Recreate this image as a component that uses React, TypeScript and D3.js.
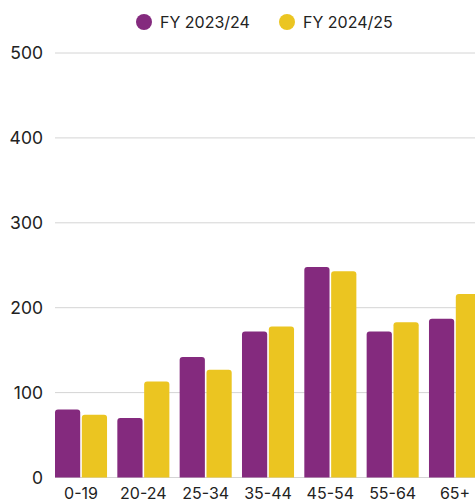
import React, { useEffect, useRef } from "react";
import * as d3 from "d3";

const ageGroups = ["0-19", "20-24", "25-34", "35-44", "45-54", "55-64", "65+"];
const seriesNames = ["FY 2023/24", "FY 2024/25"];
const fy2324 = [80, 70, 142, 172, 248, 172, 187];
const fy2425 = [74, 113, 127, 178, 243, 183, 216];
const yTicks = [0, 100, 200, 300, 400, 500];
const colors = ["#842a7e", "#ebc521"];

const W = 475;
const H = 503;

// rect with rounded top corners only
const topRounded = (x: number, y: number, w: number, h: number, r: number) => {
  r = Math.min(r, h, w / 2);
  return `M${x},${y + h}V${y + r}Q${x},${y} ${x + r},${y}H${x + w - r}Q${x + w},${y} ${x + w},${y + r}V${y + h}Z`;
};

export default function App() {
  const ref = useRef<SVGSVGElement>(null);

  useEffect(() => {
    document.body.style.margin = "0";
    const svg = d3.select(ref.current);
    svg.selectAll("*").remove();

    const margin = { top: 53, left: 55, bottom: 25.5 };
    const plotBottom = H - margin.bottom;

    const x0 = d3.scaleBand<string>()
      .domain(ageGroups)
      .range([margin.left, margin.left + 62.33 * 7])
      .paddingInner(0.165)
      .paddingOuter(0.0825)
      .align(0);

    const x1 = d3.scaleBand<string>()
      .domain(seriesNames)
      .range([0, x0.bandwidth()])
      .paddingInner(0.06);

    const y = d3.scaleLinear().domain([0, 500]).range([plotBottom, margin.top]);

    const font = "Inter, 'Noto Sans', sans-serif";

    /** grid + y labels */
    const grid = svg.append("g");
    grid.selectAll("line")
      .data(yTicks)
      .join("line")
      .attr("x1", margin.left)
      .attr("x2", W + 40)
      .attr("y1", d => y(d))
      .attr("y2", d => y(d))
      .attr("stroke", "#d4d4d4")
      .attr("stroke-width", 1);

    grid.selectAll("text")
      .data(yTicks)
      .join("text")
      .attr("x", 43)
      .attr("y", d => y(d))
      .attr("dy", "0.35em")
      .attr("text-anchor", "end")
      .attr("font-family", font)
      .attr("font-size", 17.5)
      .attr("fill", "#222")
      .text(d => d);

    /** bars */
    const series = [fy2324, fy2425];
    const groups = svg.append("g").selectAll("g")
      .data(ageGroups)
      .join("g")
      .attr("transform", d => `translate(${x0(d)},0)`);

    groups.selectAll("path")
      .data((_, i) => series.map((s, k) => ({ name: seriesNames[k], value: s[i], k })))
      .join("path")
      .attr("d", d => topRounded(x1(d.name)!, y(d.value), x1.bandwidth(), plotBottom - y(d.value), 3))
      .attr("fill", d => colors[d.k]);

    /** x labels */
    svg.append("g").selectAll("text")
      .data(ageGroups)
      .join("text")
      .attr("x", d => x0(d)! + x0.bandwidth() / 2)
      .attr("y", 499)
      .attr("text-anchor", "middle")
      .attr("font-family", font)
      .attr("font-size", 16)
      .attr("fill", "#222")
      .text(d => d);

    /** legend */
    const legendX = [144, 287];
    const legend = svg.append("g").selectAll("g")
      .data(seriesNames)
      .join("g")
      .attr("transform", (_, i) => `translate(${legendX[i]},22)`);
    legend.append("circle").attr("r", 8).attr("fill", (_, i) => colors[i]);
    legend.append("text")
      .attr("x", 16)
      .attr("dy", "0.35em")
      .attr("font-family", font)
      .attr("font-size", 16)
      .attr("fill", "#222")
      .text(d => d);
  }, []);

  return (
    <div style={{ position: "absolute", left: 0, top: 0, width: W, height: H, overflow: "hidden", background: "#fff" }}>
      <svg ref={ref} width={W + 40} height={H} />
    </div>
  );
}
